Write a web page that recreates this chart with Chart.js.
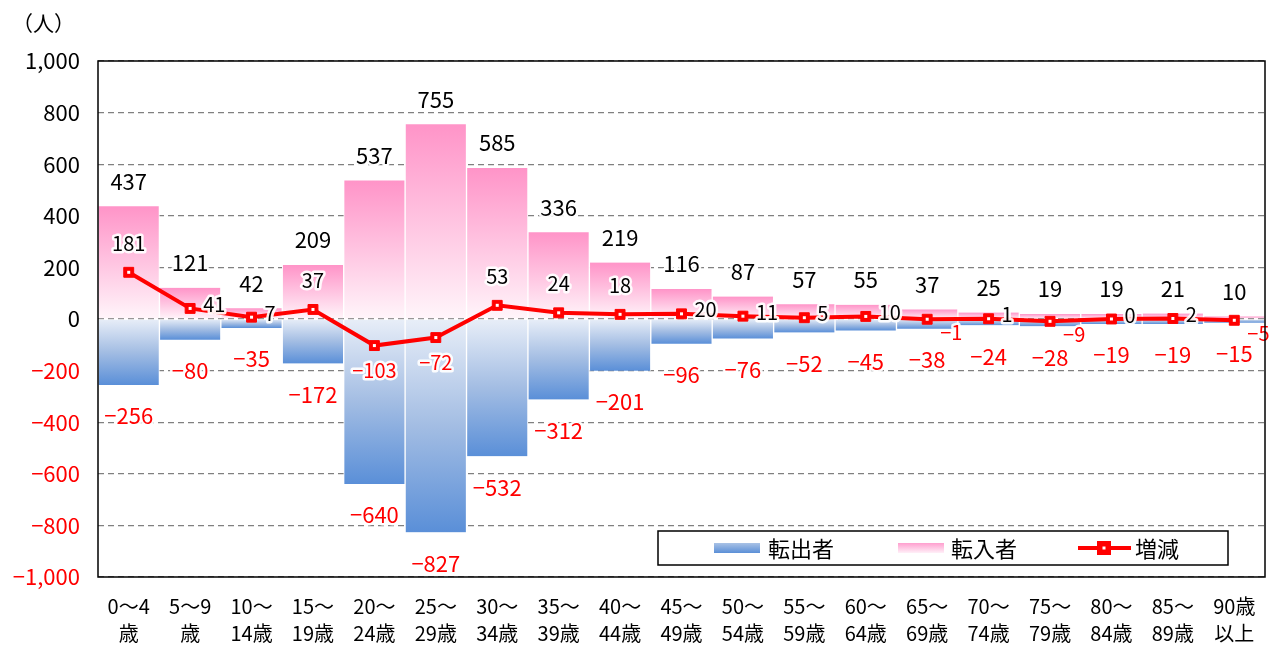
<!DOCTYPE html>
<html lang="ja">
<head>
<meta charset="UTF-8">
<title>年齢別 転入者・転出者</title>
<script src="https://cdn.jsdelivr.net/npm/chart.js"></script>
<style>
  html, body { margin: 0; padding: 0; background: #fff; }
  #wrap { width: 1276px; height: 648px; }
</style>
</head>
<body>
<div id="wrap"><canvas id="chart" width="1276" height="648"></canvas></div>
<script>
// 年齢区分
const ageLabels = [
  ['0～4', '歳'], ['5～9', '歳'], ['10～', '14歳'], ['15～', '19歳'], ['20～', '24歳'],
  ['25～', '29歳'], ['30～', '34歳'], ['35～', '39歳'], ['40～', '44歳'], ['45～', '49歳'],
  ['50～', '54歳'], ['55～', '59歳'], ['60～', '64歳'], ['65～', '69歳'], ['70～', '74歳'],
  ['75～', '79歳'], ['80～', '84歳'], ['85～', '89歳'], ['90歳', '以上']
];
const outValues = [-256, -80, -35, -172, -640, -827, -532, -312, -201, -96, -76, -52, -45, -38, -24, -28, -19, -19, -15];
const inValues  = [437, 121, 42, 209, 537, 755, 585, 336, 219, 116, 87, 57, 55, 37, 25, 19, 19, 21, 10];
const netValues = [181, 41, 7, 37, -103, -72, 53, 24, 18, 20, 11, 5, 10, -1, 1, -9, 0, 2, -5];
// 増減ラベルの置き場所 (top / right / bottom / rb = 右下)
const netLabelPos = ['top', 'right', 'right', 'top', 'bottom', 'bottom', 'top', 'top', 'top', 'right',
                     'right', 'right', 'right', 'rb', 'right', 'rb', 'right', 'right', 'rb'];

const FONT = "'Noto Sans CJK JP', 'Noto Sans', sans-serif";
const RED = '#ff0000';

function fmt(v) {
  const s = Math.abs(v).toLocaleString('en-US');
  return v < 0 ? '−' + s : s;
}

function haloText(ctx, text, x, y, color, size, align) {
  ctx.font = size + 'px ' + FONT;
  ctx.textAlign = align || 'center';
  ctx.textBaseline = 'middle';
  ctx.lineJoin = 'round';
  ctx.lineWidth = 5;
  ctx.strokeStyle = 'rgba(255,255,255,0.92)';
  ctx.strokeText(text, x, y);
  ctx.fillStyle = color;
  ctx.fillText(text, x, y);
}

// 棒ごとのグラデーション
function barGradient(c, kind) {
  const plain = kind === 'in' ? '#ff99cc' : '#5b8fd7';
  if (c.type !== 'data') return plain;
  const chart = c.chart;
  const y = chart.scales.y;
  if (!y) return plain;
  const top = y.getPixelForValue(c.raw);
  const base = y.getPixelForValue(0);
  if (!Number.isFinite(top) || !Number.isFinite(base) || top === base) return plain;
  const g = chart.ctx.createLinearGradient(0, top, 0, base);
  if (kind === 'in') {
    g.addColorStop(0, '#ff94c8');
    g.addColorStop(0.5, '#ffc4e1');
    g.addColorStop(1, '#fff5fa');
  } else {
    g.addColorStop(0, '#5a8fd8');
    g.addColorStop(0.5, '#a3bde3');
    g.addColorStop(1, '#e8eef8');
  }
  return g;
}

const labelPlugin = {
  id: 'labels',
  afterDatasetsDraw(chart) {
    const ctx = chart.ctx;
    const y = chart.scales.y;
    ctx.save();
    // 転出者・転入者
    const mOut = chart.getDatasetMeta(0);
    const mIn = chart.getDatasetMeta(1);
    mIn.data.forEach((el, i) => {
      haloText(ctx, fmt(inValues[i]), el.x, y.getPixelForValue(inValues[i]) - 25, '#000', 22);
    });
    mOut.data.forEach((el, i) => {
      haloText(ctx, fmt(outValues[i]), el.x, y.getPixelForValue(outValues[i]) + 31, RED, 22);
    });
    // 増減マーカーの白点とラベル
    const mNet = chart.getDatasetMeta(2);
    mNet.data.forEach(pt => {
      ctx.fillStyle = '#fff';
      ctx.fillRect(pt.x - 1.5, pt.y - 1.5, 3, 3);
    });
    mNet.data.forEach((pt, i) => {
      const v = netValues[i];
      const col = v < 0 ? RED : '#000';
      const pos = netLabelPos[i];
      if (pos === 'top') haloText(ctx, fmt(v), pt.x, pt.y - 29, col, 20);
      else if (pos === 'bottom') haloText(ctx, fmt(v), pt.x, pt.y + 25, col, 20);
      else if (pos === 'rb') haloText(ctx, fmt(v), pt.x + 13, pt.y + 13, col, 20, 'left');
      else haloText(ctx, fmt(v), pt.x + 13, pt.y - 4, col, 20, 'left');
    });
    ctx.restore();
  },
  afterDraw(chart) {
    const ctx = chart.ctx;
    const a = chart.chartArea;
    ctx.save();
    // 枠
    ctx.strokeStyle = '#000';
    ctx.lineWidth = 1.5;
    ctx.strokeRect(a.left, a.top, a.right - a.left, a.bottom - a.top);
    // 単位
    ctx.font = '21px ' + FONT;
    ctx.fillStyle = '#000';
    ctx.textAlign = 'left';
    ctx.textBaseline = 'middle';
    ctx.fillText('（人）', 12, 23);
    // 凡例
    const lx = 658, ly = 531, lw = 570, lh = 34, cy = ly + lh / 2;
    ctx.fillStyle = '#fff';
    ctx.fillRect(lx, ly, lw, lh);
    ctx.lineWidth = 1.5;
    ctx.strokeRect(lx, ly, lw, lh);
    let g = ctx.createLinearGradient(0, cy - 5, 0, cy + 5);
    g.addColorStop(0, '#a9c2e6'); g.addColorStop(1, '#5b8fd7');
    ctx.fillStyle = g;
    ctx.fillRect(714, cy - 5, 46, 10);
    g = ctx.createLinearGradient(0, cy - 5, 0, cy + 5);
    g.addColorStop(0, '#ff9fcf'); g.addColorStop(1, '#fff0f8');
    ctx.fillStyle = g;
    ctx.fillRect(898, cy - 5, 46, 10);
    ctx.strokeStyle = RED;
    ctx.lineWidth = 4;
    ctx.beginPath(); ctx.moveTo(1078, cy); ctx.lineTo(1131, cy); ctx.stroke();
    ctx.fillStyle = RED;
    ctx.fillRect(1097, cy - 7, 14, 14);
    ctx.fillStyle = '#fff';
    ctx.fillRect(1102.5, cy - 1.5, 3, 3);
    ctx.font = '22px ' + FONT;
    ctx.fillStyle = '#000';
    ctx.textBaseline = 'middle';
    ctx.fillText('転出者', 768, cy + 1);
    ctx.fillText('転入者', 951, cy + 1);
    ctx.fillText('増減', 1135, cy + 1);
    ctx.restore();
  }
};

const ctx = document.getElementById('chart').getContext('2d');
new Chart(ctx, {
  type: 'bar',
  data: {
    labels: ageLabels,
    datasets: [
      {
        label: '転出者',
        data: outValues,
        backgroundColor: c => barGradient(c, 'out'),
        borderColor: '#ffffff',
        borderWidth: { left: 1, right: 1 },
        borderSkipped: false,
        categoryPercentage: 1,
        barPercentage: 1,
        order: 2
      },
      {
        label: '転入者',
        data: inValues,
        backgroundColor: c => barGradient(c, 'in'),
        borderColor: '#ffffff',
        borderWidth: { left: 1, right: 1 },
        borderSkipped: false,
        categoryPercentage: 1,
        barPercentage: 1,
        order: 1
      },
      {
        type: 'line',
        label: '増減',
        data: netValues,
        borderColor: RED,
        borderWidth: 4,
        pointStyle: 'rect',
        pointRadius: 7,
        pointBackgroundColor: RED,
        pointBorderColor: RED,
        pointBorderWidth: 1,
        tension: 0,
        order: 0
      }
    ]
  },
  options: {
    responsive: false,
    animation: false,
    layout: { padding: { top: 61, right: 11, left: 0, bottom: 0 } },
    plugins: {
      legend: { display: false },
      tooltip: { enabled: false }
    },
    scales: {
      x: {
        stacked: true,
        grid: { display: false },
        border: { display: false },
        ticks: {
          color: '#000',
          font: { family: FONT, size: 20, lineHeight: 1.35 },
          padding: 8,
          maxRotation: 0,
          autoSkip: false
        },
        afterFit: s => { s.height = 71; }
      },
      y: {
        min: -1000,
        max: 1000,
        grid: { color: '#808080', lineWidth: 1.3, drawTicks: false },
        border: { display: false, dash: [6, 4] },
        ticks: {
          stepSize: 200,
          padding: 18,
          color: c => (c.tick && c.tick.value < 0 ? RED : '#000'),
          font: { family: FONT, size: 22 },
          callback: v => fmt(v)
        },
        afterFit: s => { s.width = 98; }
      }
    }
  },
  plugins: [labelPlugin]
});
</script>
</body>
</html>
